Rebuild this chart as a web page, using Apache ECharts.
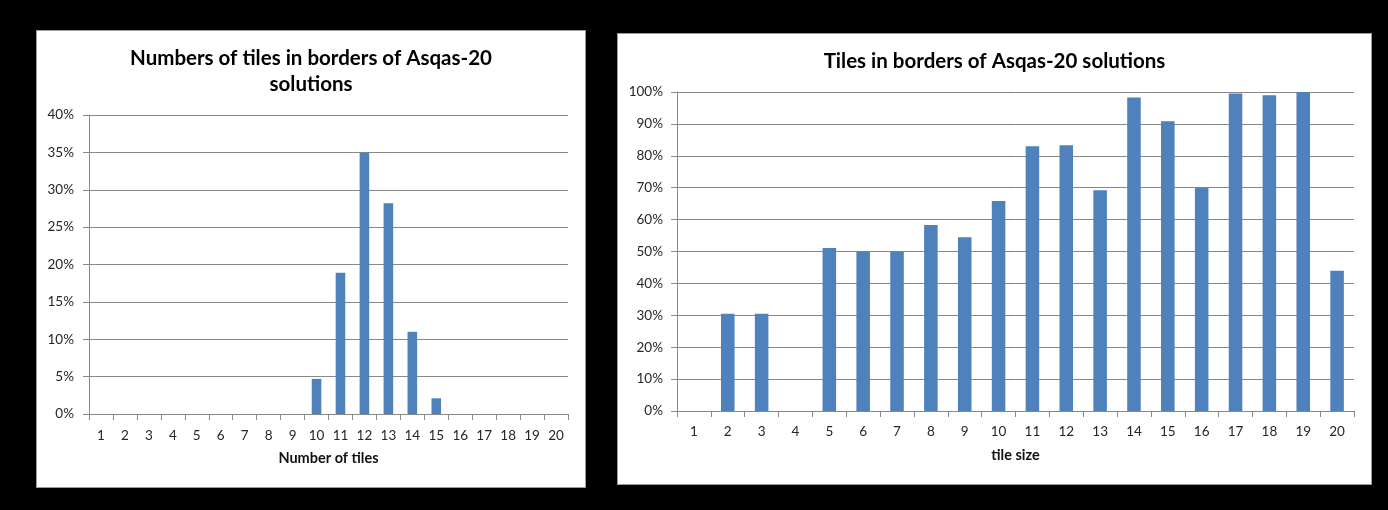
<!DOCTYPE html>
<html>
<head>
<meta charset="utf-8">
<script src="https://cdn.jsdelivr.net/npm/echarts@6/dist/echarts.min.js"></script>
<style>
  html, body { margin: 0; padding: 0; background: #000; width: 1388px; height: 510px; overflow: hidden; }
  .panel { position: absolute; background: #fff; border: 1px solid #9a9a9a; box-sizing: border-box; }
  #c1 { left: 36px; top: 30px; width: 550px; height: 458px; }
  #c2 { left: 617px; top: 33px; width: 755px; height: 452px; }
</style>
</head>
<body>
<div id="c1" class="panel"></div>
<div id="c2" class="panel"></div>
<script>
// ---- Data ----
const categories = ['1','2','3','4','5','6','7','8','9','10','11','12','13','14','15','16','17','18','19','20'];
// Left chart: share of solutions by number of tiles in border
const countShare = [0,0,0,0,0,0,0,0,0,0.047,0.189,0.35,0.282,0.110,0.021,0,0,0,0,0];
// Right chart: share of tiles of each size lying in border
const sizeShare = [0,0.305,0.305,0,0.511,0.500,0.500,0.583,0.545,0.658,0.830,0.833,0.692,0.983,0.908,0.700,0.995,0.990,1.000,0.440];
const leftTitle = 'Numbers of tiles in borders of Asqas-20\nsolutions';
const rightTitle = 'Tiles in borders of Asqas-20 solutions';
const leftXName = 'Number of tiles';
const rightXName = 'tile size';

const FONT = 'Lato, "Open Sans", sans-serif';
const GRID_COLOR = '#888888';
const TEXT_COLOR = '#262626';
const BAR_COLOR = '#4F81BD';

function pct(v) { return Math.round(v * 100) + '%'; }

function makeOption(cfg) {
  return {
    animation: false,
    backgroundColor: '#fff',
    title: {
      text: cfg.title,
      left: 'center',
      top: cfg.titleTop,
      textStyle: { fontFamily: FONT, fontSize: 20.5, fontWeight: 'bold', color: '#000', lineHeight: 26 }
    },
    grid: cfg.grid,
    xAxis: {
      type: 'category',
      data: categories,
      name: cfg.xName,
      nameLocation: 'middle',
      nameGap: cfg.nameGap,
      nameTextStyle: { fontFamily: FONT, fontSize: 14.5, fontWeight: 'bold', color: '#111' },
      axisLine: { show: true, lineStyle: { color: GRID_COLOR, width: 1 } },
      axisTick: { show: true, length: 6, alignWithLabel: false, lineStyle: { color: GRID_COLOR } },
      axisLabel: { fontFamily: FONT, fontSize: 13.5, color: TEXT_COLOR, margin: cfg.xLabelMargin, interval: 0 },
      splitLine: { show: false }
    },
    yAxis: {
      type: 'value',
      min: 0,
      max: cfg.yMax,
      interval: cfg.yInterval,
      axisLine: { show: true, lineStyle: { color: GRID_COLOR, width: 1 } },
      axisTick: { show: true, length: 6, lineStyle: { color: GRID_COLOR } },
      axisLabel: { fontFamily: FONT, fontSize: 13.5, color: TEXT_COLOR, margin: cfg.yLabelMargin, formatter: pct },
      splitLine: { show: true, lineStyle: { color: GRID_COLOR, width: 1 } }
    },
    series: [{
      type: 'bar',
      data: cfg.data,
      barCategoryGap: '60%',
      itemStyle: { color: BAR_COLOR }
    }]
  };
}

const c1 = echarts.init(document.getElementById('c1'), null, { renderer: 'canvas' });
c1.setOption(makeOption({
  title: leftTitle, titleTop: 9,
  grid: { left: 52, top: 84, right: 17, bottom: 73 },
  xName: leftXName, nameGap: 37, xLabelMargin: 15, yLabelMargin: 15,
  yMax: 0.4, yInterval: 0.05, data: countShare
}));

const c2 = echarts.init(document.getElementById('c2'), null, { renderer: 'canvas' });
c2.setOption(makeOption({
  title: rightTitle, titleTop: 9,
  grid: { left: 59, top: 58, right: 17, bottom: 73 },
  xName: rightXName, nameGap: 37, xLabelMargin: 14, yLabelMargin: 14,
  yMax: 1, yInterval: 0.1, data: sizeShare
}));
</script>
</body>
</html>
